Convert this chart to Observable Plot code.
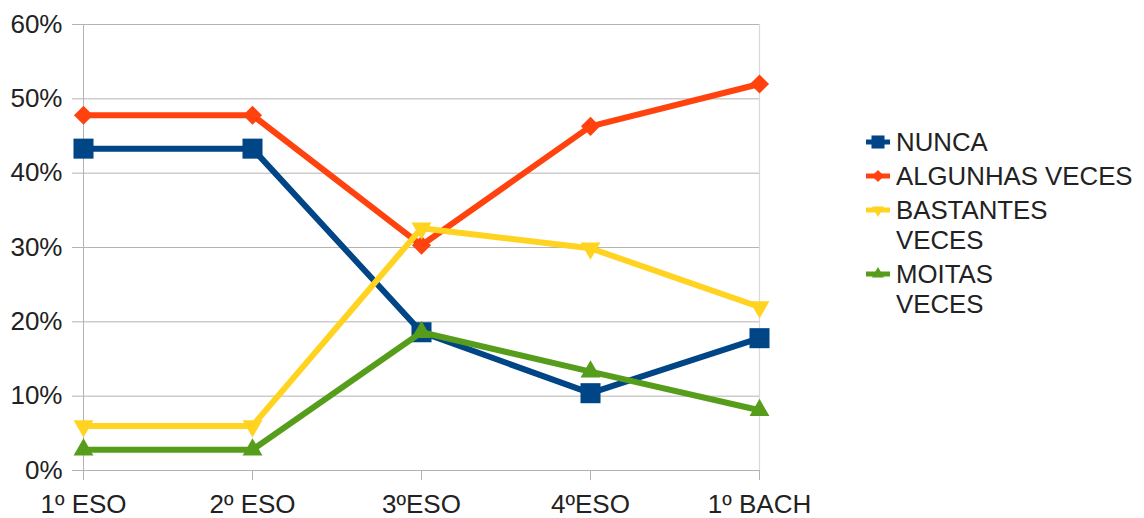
<!DOCTYPE html>
<html><head><meta charset="utf-8">
<script src="https://cdn.jsdelivr.net/npm/d3@7"></script>
<script src="https://cdn.jsdelivr.net/npm/@observablehq/plot@0.6"></script>
<style>
body{margin:0;background:#fff;font-family:"Liberation Sans",Arial,sans-serif;}
#wrap{position:relative;width:1144px;height:518px;overflow:hidden;}
#chart{position:absolute;left:0;top:0;}
#legend{position:absolute;left:866px;top:127px;font-size:25.8px;color:#222;font-family:"Liberation Sans",Arial,sans-serif;}
.item{display:flex;align-items:flex-start;line-height:30px;margin-bottom:4px;white-space:pre-line;}
.item svg{flex:none;margin-top:5px;margin-right:6px;}
</style></head><body>
<div id="wrap"><div id="chart"></div><div id="legend"></div></div>
<script>
const categories = ["1º ESO", "2º ESO", "3ºESO", "4ºESO", "1º BACH"];
const seriesNames = ["NUNCA", "ALGUNHAS VECES", "BASTANTES VECES", "MOITAS VECES"];
const legendLabels = ["NUNCA", "ALGUNHAS VECES", "BASTANTES\nVECES", "MOITAS\nVECES"];
const nunca = [0.433, 0.433, 0.186, 0.104, 0.178];
const algunhas = [0.478, 0.478, 0.303, 0.463, 0.520];
const bastantes = [0.060, 0.060, 0.326, 0.299, 0.220];
const moitas = [0.028, 0.028, 0.186, 0.133, 0.081];
const yTicks = [0, 0.1, 0.2, 0.3, 0.4, 0.5, 0.6];
const colors = ["#004586", "#ff420e", "#ffd320", "#579d1c"];
const symbols = ["square", "diamond2", "triangle2", "triangle2"];
const rotations = [0, 0, 180, 0];
const radii = [11.3, 8.6, 9.5, 9.5];

const seriesValues = [nunca, algunhas, bastantes, moitas];
const seriesData = seriesValues.map((vals, s) =>
  vals.map((v, i) => ({series: seriesNames[s], cat: categories[i], value: v})));

const marks = [
  Plot.gridY(yTicks, {stroke: "#b3b3b3", strokeOpacity: 1}),
  Plot.ruleX([categories[categories.length - 1]], {stroke: "#d9d9d9", strokeWidth: 1.2}),
  Plot.ruleX([categories[0]], {stroke: "#b3b3b3"}),
  Plot.axisY(yTicks, {tickFormat: d3.format(".0%"), tickSize: 10, tickPadding: 10, stroke: "#b3b3b3", fill: "#222", fontSize: 26, label: null}),
  Plot.axisX({tickSize: 10, tickPadding: 14, stroke: "#b3b3b3", fill: "#222", fontSize: 26, label: null})
];
seriesData.forEach((d, s) => {
  marks.push(Plot.line(d, {x: "cat", y: "value", stroke: colors[s], strokeWidth: 6, strokeLinejoin: "miter", curve: "linear"}));
  marks.push(Plot.dot(d, {x: "cat", y: "value", fill: colors[s], stroke: "none", symbol: symbols[s], r: radii[s], rotate: rotations[s]}));
});

const chart = Plot.plot({
  width: 840, height: 518,
  marginLeft: 82, marginRight: 80, marginTop: 24, marginBottom: 48,
  style: {fontFamily: "'Liberation Sans', Arial, sans-serif", background: "#fff", overflow: "visible"},
  x: {type: "point", domain: categories, padding: 0},
  y: {domain: [0, 0.6]},
  marks
});
document.getElementById("chart").appendChild(chart);

const legend = d3.select("#legend");
const symMap = {square: d3.symbolSquare, diamond2: d3.symbolDiamond2, triangle2: d3.symbolTriangle2};
const legendSizes = [170, 95, 105, 105];
seriesNames.forEach((name, s) => {
  const item = legend.append("div").attr("class", "item");
  const svg = item.append("svg").attr("width", 24).attr("height", 20);
  svg.append("line").attr("x1", 0).attr("x2", 24).attr("y1", 10).attr("y2", 10)
    .attr("stroke", colors[s]).attr("stroke-width", 5);
  svg.append("path").attr("d", d3.symbol(symMap[symbols[s]], legendSizes[s])())
    .attr("transform", `translate(12,10) rotate(${rotations[s]})`).attr("fill", colors[s]);
  item.append("span").text(legendLabels[s]);
});
</script>
</body></html>
